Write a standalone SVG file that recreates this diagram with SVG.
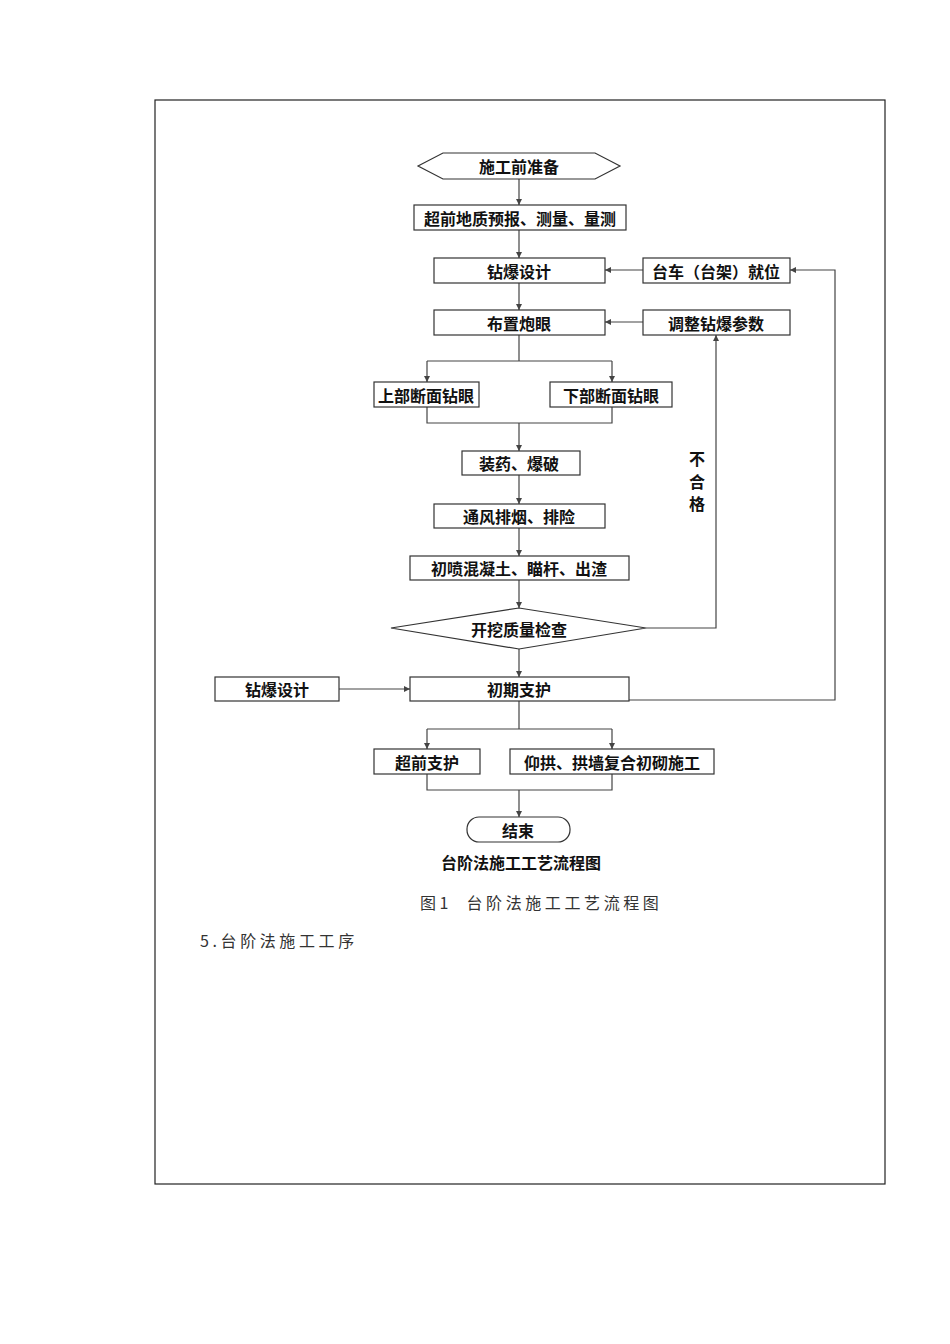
<svg xmlns="http://www.w3.org/2000/svg" width="950" height="1344" viewBox="0 0 950 1344">
<defs>
<style>
.n{fill:#fff;stroke:#333;stroke-width:1.2}
.t{font-family:"Noto Sans CJK SC",sans-serif;font-size:16px;font-weight:bold;text-anchor:middle;dominant-baseline:central;fill:#111}
.c{fill:none;stroke:#444;stroke-width:1.2}
</style>
<marker id="a" markerWidth="6" markerHeight="8" refX="6" refY="4" orient="auto" markerUnits="userSpaceOnUse"><path d="M0,1L6,4L0,7z" fill="#444"/></marker>
</defs>
<rect width="950" height="1344" fill="#fff"/>
<rect x="155" y="100" width="730" height="1084" fill="none" stroke="#222" stroke-width="1.2"/>
<g id="connectors">
<path class="c" d="M519,179V205" marker-end="url(#a)"/>
<path class="c" d="M519,230V258" marker-end="url(#a)"/>
<path class="c" d="M519,283V310" marker-end="url(#a)"/>
<path class="c" d="M643,270H605" marker-end="url(#a)"/>
<path class="c" d="M643,322H605" marker-end="url(#a)"/>
<path class="c" d="M519,335V361"/>
<path class="c" d="M427,361H612"/>
<path class="c" d="M427,361V382" marker-end="url(#a)"/>
<path class="c" d="M612,361V382" marker-end="url(#a)"/>
<path class="c" d="M427,407V423H612V407"/>
<path class="c" d="M519,423V451" marker-end="url(#a)"/>
<path class="c" d="M519,475V504" marker-end="url(#a)"/>
<path class="c" d="M519,528V556" marker-end="url(#a)"/>
<path class="c" d="M519,580V608" marker-end="url(#a)"/>
<path class="c" d="M646,628H716V335" marker-end="url(#a)"/>
<path class="c" d="M519,649V677" marker-end="url(#a)"/>
<path class="c" d="M339,689H410" marker-end="url(#a)"/>
<path class="c" d="M629,700H835V270H790" marker-end="url(#a)"/>
<path class="c" d="M519,701V729"/>
<path class="c" d="M427,729H612"/>
<path class="c" d="M427,729V749" marker-end="url(#a)"/>
<path class="c" d="M612,729V749" marker-end="url(#a)"/>
<path class="c" d="M427,774V790H612V774"/>
<path class="c" d="M519,790V817" marker-end="url(#a)"/>
</g>
<g id="n1"><path class="n" d="M418,166L443,153H595L620,166L595,179H443z"/><text class="t" x="519" y="166">施工前准备</text></g>
<g id="n2"><rect class="n" x="414" y="205" width="212" height="25"/><text class="t" x="520" y="218">超前地质预报、测量、量测</text></g>
<g id="n3"><rect class="n" x="434" y="258" width="171" height="25"/><text class="t" x="519" y="271">钻爆设计</text></g>
<g id="n4"><rect class="n" x="643" y="258" width="147" height="25"/><text class="t" x="716" y="271">台车（台架）就位</text></g>
<g id="n5"><rect class="n" x="434" y="310" width="171" height="25"/><text class="t" x="519" y="323">布置炮眼</text></g>
<g id="n6"><rect class="n" x="643" y="310" width="147" height="25"/><text class="t" x="716" y="323">调整钻爆参数</text></g>
<g id="n7"><rect class="n" x="374" y="382" width="105" height="25"/><text class="t" x="426" y="395">上部断面钻眼</text></g>
<g id="n8"><rect class="n" x="550" y="382" width="122" height="25"/><text class="t" x="611" y="395">下部断面钻眼</text></g>
<g id="n9"><rect class="n" x="462" y="451" width="118" height="24"/><text class="t" x="519" y="463">装药、爆破</text></g>
<g id="n10"><rect class="n" x="434" y="504" width="171" height="24"/><text class="t" x="519" y="516">通风排烟、排险</text></g>
<g id="n11"><rect class="n" x="410" y="556" width="219" height="24"/><text class="t" x="519" y="568">初喷混凝土、瞄杆、出渣</text></g>
<g id="n12"><path class="n" d="M391,628L519,608L646,628L519,649z"/><text class="t" x="519" y="629">开挖质量检查</text></g>
<g id="n13"><text class="t" x="697" y="458">不</text><text class="t" x="697" y="481">合</text><text class="t" x="697" y="503">格</text></g>
<g id="n14"><rect class="n" x="215" y="677" width="124" height="24"/><text class="t" x="277" y="689">钻爆设计</text></g>
<g id="n15"><rect class="n" x="410" y="677" width="219" height="24"/><text class="t" x="519" y="689">初期支护</text></g>
<g id="n16"><rect class="n" x="374" y="749" width="106" height="25"/><text class="t" x="427" y="762">超前支护</text></g>
<g id="n17"><rect class="n" x="510" y="749" width="204" height="25"/><text class="t" x="612" y="762">仰拱、拱墙复合初砌施工</text></g>
<g id="n18"><rect class="n" x="467" y="817" width="103" height="25" rx="12"/><text class="t" x="518" y="830">结束</text></g>
<text class="t" x="521" y="862">台阶法施工工艺流程图</text>
<text x="420" y="909" font-family="'Noto Sans CJK SC',sans-serif" font-size="16" letter-spacing="3.6" fill="#333" xml:space="preserve">图1  台阶法施工工艺流程图</text>
<text x="200" y="947" font-family="'Noto Sans CJK SC',sans-serif" font-size="16" letter-spacing="3.6" fill="#333">5.台阶法施工工序</text>
</svg>
